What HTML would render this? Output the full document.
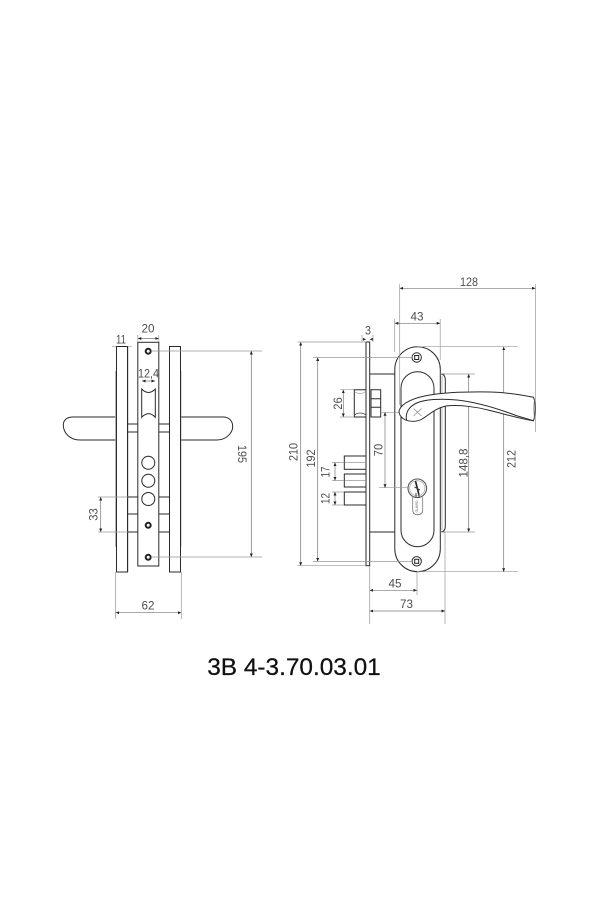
<!DOCTYPE html>
<html><head><meta charset="utf-8"><style>
html,body{margin:0;padding:0;background:#fff}
svg{display:block}
text{font-family:"Liberation Sans",sans-serif;fill:#4d4d4d;font-size:12px;text-anchor:middle}
.o{fill:none;stroke:#2a2a2a;stroke-width:1}
.w{fill:#fff;stroke:#2a2a2a;stroke-width:1}
.g{fill:none;stroke:#999;stroke-width:.7}
.d{fill:none;stroke:#777;stroke-width:.7;marker-start:url(#a);marker-end:url(#a)}
</style></head><body>
<svg width="600" height="900" viewBox="0 0 600 900" xmlns="http://www.w3.org/2000/svg">
<defs><marker id="a" markerUnits="userSpaceOnUse" markerWidth="4" markerHeight="4" refX="3.5" refY="1.5" orient="auto-start-reverse"><path d="M0 0L3.5 1.5L0 3z" fill="#222"/></marker></defs>

<!-- LEFT VIEW -->
<path class="w" d="M115.5 417H73C67 417 63.3 420 63.3 425C63.3 433 70 440 80 440H115.5"/>
<path class="w" d="M181 417H223C229 417 232.7 421 232.7 426.5C232.7 433 226 440 217 440H181"/>
<path class="g" d="M115.5 371V547M181 371V547M128 346V572"/>
<rect class="o" x="116.5" y="346.5" width="11" height="225.5" stroke-width="1.2"/>
<rect class="o" x="169.5" y="346.5" width="11" height="225.5" stroke-width="1.2"/>
<rect class="o" x="137.8" y="342.3" width="21" height="223.7"/>
<path class="o" d="M127.5 424H137.8M127.5 432H137.8M158.8 424H169.5M158.8 432H169.5M127.5 497H137.8M127.5 514H137.8M127.5 532H137.8M158.8 497H169.5M158.8 514H169.5M158.8 532H169.5"/>
<path class="o" d="M141.7 389Q148.5 396 155.3 389V417.3Q148.5 410 141.7 417.3Z"/>
<circle class="o" cx="148.3" cy="462.8" r="6.5"/><circle class="o" cx="148.3" cy="480.8" r="6.5"/><circle class="o" cx="148.3" cy="499" r="6.5"/>
<circle cx="148.2" cy="351.2" r="2.5" fill="none" stroke="#222" stroke-width="2"/>
<circle cx="148.2" cy="525.3" r="2.5" fill="none" stroke="#222" stroke-width="2"/>
<circle cx="148.2" cy="557.3" r="2.5" fill="none" stroke="#222" stroke-width="2"/>
<path class="g" d="M151 351H262M151 557H262M98 497H128M98 532H128M115.5 572V619M181.3 572V619"/>
<path class="d" d="M137.8 338.5H158.8"/>
<path class="g" d="M137.8 335V342M158.8 335V342M112 346.7H116M128 346.7H132"/>
<path class="d" d="M142 381H155"/>
<path class="d" d="M251.3 351V557"/>
<path class="d" d="M100.7 497V532"/>
<path class="d" d="M115.7 612.7H181.3"/>
<text x="148" y="332.5" textLength="13" lengthAdjust="spacingAndGlyphs">20</text>
<text x="121" y="343.5" textLength="10" lengthAdjust="spacingAndGlyphs">11</text>
<text x="148.5" y="377.5" textLength="21" lengthAdjust="spacingAndGlyphs">12,4</text>
<text x="148" y="609.5" textLength="13" lengthAdjust="spacingAndGlyphs">62</text>
<text transform="translate(238 454) rotate(90)" textLength="18" lengthAdjust="spacingAndGlyphs">195</text>
<text transform="translate(97.5 514.5) rotate(-90)" textLength="12.5" lengthAdjust="spacingAndGlyphs">33</text>

<!-- RIGHT VIEW: lock -->
<rect class="o" x="366" y="342" width="3.7" height="223.7" stroke-width="1.1"/>
<path class="o" d="M369.7 374H440M369.7 532H440M371 389.7H380.7V417H371ZM371 398.7H380.7M371 407.3H380.7"/>
<path class="o" d="M354.3 389.7H366V417H354.3Z"/>
<path d="M354.3 415Q360 411 366 415" fill="none" stroke="#444" stroke-width=".8"/>
<path class="g" d="M355 392Q360 395 365 392"/>
<rect class="o" x="344.3" y="456" width="21.7" height="13.3"/>
<rect class="o" x="344.3" y="474" width="21.7" height="13"/>
<rect class="o" x="344.3" y="492" width="21.7" height="13"/>
<path class="g" d="M344.5 462.5H366M344.5 480.5H366"/>
<path class="o" d="M440 374Q445.3 374 445.3 380V526Q445.3 532 440 532"/>
<path class="g" d="M442 376V530"/>
<rect class="o" x="394.8" y="346.7" width="45.5" height="225" rx="22.75" ry="22.75" style="fill:#fff"/>
<rect class="o" x="401" y="371.7" width="33" height="175" rx="16.5" ry="16.5"/>
<path class="o" d="M369.7 374H394.8M369.7 532H394.8M440.3 374H445M440.3 532H445"/>

<!-- screws -->
<circle class="o" cx="416.7" cy="357.5" r="4.7"/><rect x="414.7" y="355.5" width="4" height="4" fill="none" stroke="#222" stroke-width="1"/>
<circle class="o" cx="416.7" cy="561.3" r="4.7"/><rect x="414.7" y="559.3" width="4" height="4" fill="none" stroke="#222" stroke-width="1"/>

<!-- cylinder -->
<path d="M412.7 497V510Q412.7 514.7 417.7 514.7Q422.7 514.7 422.7 510V497" fill="#fff" stroke="#777" stroke-width=".8"/>
<circle cx="417.3" cy="488.3" r="9.3" fill="#fff" stroke="#555" stroke-width="1.1"/>
<circle cx="417.3" cy="488.3" r="7.6" fill="none" stroke="#999" stroke-width=".6"/>
<path d="M415.5 481L419 495" stroke="#222" stroke-width="1.6" fill="none"/>
<path d="M414.5 487L420 490M416 493L416 497M419 493V497" stroke="#444" stroke-width="1" fill="none"/>
<text transform="translate(417.8 506.5) rotate(-90)" style="font-size:3.5px;fill:#777" textLength="12">GUARD</text>

<!-- dims behind handle -->
<path class="g" d="M297.5 342H366M297.5 565.7H366M313 357.5H412M313 561.4H412M340 389.7H354M340 417H354M332 462.5H344M332 480.5H344M332 492H344M332 505H344"/>
<path class="g" d="M380 412.3H416M379 487.7H408"/>
<path class="g" d="M369.7 566V624M445 532V624M417 572V595M399.7 284V405M535.5 284V432M394.7 319V352M440.2 319V360M417 346.7H518M417 571.7H518M440 374H475M440 532H475M362 335V342M373 335V342"/>
<path class="d" d="M300.7 342V565.7"/>
<path class="d" d="M317.7 357.5V561.4"/>
<path class="d" d="M343.3 389.7V417"/>
<path class="d" d="M335 462.5V480.5"/>
<path class="d" d="M335 492V505"/>
<path class="d" d="M385 412.3V487.7"/>
<path class="d" d="M369.7 590.3H417"/>
<path class="d" d="M369.7 611H445"/>
<path class="d" d="M399.7 288.3H535.5"/>
<path class="d" d="M394.8 323.3H440.2"/>
<path class="d" d="M468.7 374V532"/>
<path class="d" d="M503.7 346.7V571.7"/>
<path d="M362 339.3H366M373.5 339.3H369.7" class="g"/>
<path d="M366 339.3l-3-1.4v2.8zM369.7 339.3l3-1.4v2.8z" fill="#222"/>

<!-- handle -->
<path class="w" stroke-width="1.1" d="M399.3 410C402 403 414 397.5 430 395C445 392.5 470 391.7 490 392C505 392.3 522 395 533.5 397.3C535.6 402 535.8 414 533.5 420.7C525 420 510 415.5 490 410.5C475 406.5 458 404.5 446 406C436 408 430 414 423 418.5C417 422.5 408 422 403 418.5C400 416 398.5 413 399.3 410Z"/>
<path class="o" d="M406.7 420.5C405 414 408 407 416.7 403C425 399.5 440 398.3 457 400C475 402 495 407.5 516 415.5L533.5 420.7"/>
<path d="M413.5 408.5L421.5 416M421.5 408.5L413.5 416" stroke="#888" stroke-width=".7" fill="none"/>
<path d="M534.5 400Q533 408 534.5 418" fill="none" stroke="#777" stroke-width=".6"/>

<text transform="translate(297.5 452) rotate(-90)" textLength="18" lengthAdjust="spacingAndGlyphs">210</text>
<text transform="translate(315 458.5) rotate(-90)" textLength="18" lengthAdjust="spacingAndGlyphs">192</text>
<text transform="translate(342 403.5) rotate(-90)" textLength="12.5" lengthAdjust="spacingAndGlyphs">26</text>
<text transform="translate(329.5 472) rotate(-90)" textLength="11" lengthAdjust="spacingAndGlyphs">17</text>
<text transform="translate(329.5 498.5) rotate(-90)" textLength="11" lengthAdjust="spacingAndGlyphs">12</text>
<text transform="translate(382.5 450) rotate(-90)" textLength="12.5" lengthAdjust="spacingAndGlyphs">70</text>
<text transform="translate(467.5 463) rotate(-90)" textLength="29" lengthAdjust="spacingAndGlyphs">148,8</text>
<text transform="translate(515.5 459) rotate(-90)" textLength="18" lengthAdjust="spacingAndGlyphs">212</text>
<text x="368" y="334.5" textLength="6" lengthAdjust="spacingAndGlyphs">3</text>
<text x="469" y="286" textLength="18" lengthAdjust="spacingAndGlyphs">128</text>
<text x="417" y="320.5" textLength="13" lengthAdjust="spacingAndGlyphs">43</text>
<text x="395" y="587.5" textLength="13" lengthAdjust="spacingAndGlyphs">45</text>
<text x="406.5" y="608" textLength="13" lengthAdjust="spacingAndGlyphs">73</text>

<text x="294" y="675" style="font-size:24px;fill:#111;stroke:#111;stroke-width:.25" textLength="173.5" lengthAdjust="spacingAndGlyphs">3B 4-3.70.03.01</text>
</svg>
</body></html>
